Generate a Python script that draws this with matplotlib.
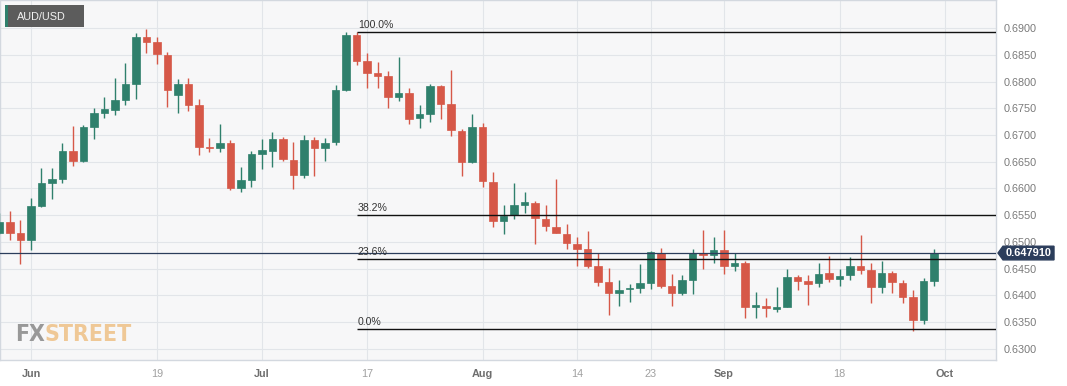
import matplotlib
matplotlib.use("Agg")
import matplotlib.pyplot as plt
import matplotlib.transforms as mtransforms
from matplotlib.patches import Rectangle, Polygon
import numpy as np
import pandas as pd

# ---------------- data ----------------
dates = pd.bdate_range("2023-05-29", "2023-09-29")
opens = [0.6517, 0.6538, 0.6517, 0.6504, 0.6567, 0.6610, 0.6618, 0.6670, 0.6652, 0.6716,
         0.6742, 0.6747, 0.6766, 0.6796, 0.6884, 0.6874, 0.6850, 0.6775, 0.6796, 0.6756,
         0.6678, 0.6675, 0.6686, 0.6600, 0.6616, 0.6665, 0.6670, 0.6692, 0.6654, 0.6626,
         0.6691, 0.6675, 0.6687, 0.6785, 0.6888, 0.6839, 0.6816, 0.6811, 0.6772, 0.6778,
         0.6732, 0.6739, 0.6792, 0.6758, 0.6708, 0.6649, 0.6716, 0.6613, 0.6539, 0.6550,
         0.6570, 0.6573, 0.6543, 0.6527, 0.6515, 0.6496, 0.6486, 0.6454, 0.6424, 0.6404,
         0.6411, 0.6414, 0.6423, 0.6480, 0.6417, 0.6404, 0.6429, 0.6480, 0.6476, 0.6484,
         0.6454, 0.6461, 0.6378, 0.6379, 0.6375, 0.6378, 0.6434, 0.6426, 0.6423, 0.6441,
         0.6430, 0.6438, 0.6454, 0.6447, 0.6416, 0.6441, 0.6423, 0.6396, 0.6354, 0.6427]
highs = [0.6554, 0.6558, 0.6541, 0.6582, 0.6638, 0.6638, 0.6685, 0.6717, 0.6719, 0.6750,
         0.6772, 0.6806, 0.6835, 0.6892, 0.6898, 0.6884, 0.6855, 0.6805, 0.6806, 0.6767,
         0.6695, 0.6721, 0.6691, 0.6640, 0.6671, 0.6692, 0.6705, 0.6697, 0.6688, 0.6700,
         0.6697, 0.6695, 0.6794, 0.6894, 0.68925, 0.6853, 0.6836, 0.6820, 0.6846, 0.6788,
         0.6756, 0.6795, 0.6794, 0.6822, 0.6711, 0.6739, 0.6723, 0.6630, 0.6569, 0.6610,
         0.6593, 0.6577, 0.6570, 0.6617, 0.6533, 0.6510, 0.6521, 0.6480, 0.6452, 0.6429,
         0.6421, 0.6458, 0.6482, 0.6488, 0.6440, 0.6438, 0.6486, 0.6522, 0.6509, 0.6522,
         0.6480, 0.6465, 0.6407, 0.6394, 0.6415, 0.6449, 0.6438, 0.6438, 0.6460, 0.6474,
         0.6449, 0.6472, 0.6512, 0.6461, 0.6465, 0.6446, 0.6429, 0.6409, 0.6432, 0.6486]
lows = [0.6515, 0.6504, 0.6458, 0.6485, 0.6565, 0.6580, 0.6610, 0.6642, 0.6650, 0.6692,
        0.6732, 0.6738, 0.6756, 0.6767, 0.6854, 0.6833, 0.6752, 0.6741, 0.6745, 0.6662,
        0.6668, 0.6669, 0.6597, 0.6594, 0.6602, 0.6636, 0.6641, 0.6652, 0.6599, 0.6619,
        0.6623, 0.6652, 0.6682, 0.6783, 0.6831, 0.6788, 0.6789, 0.6750, 0.6764, 0.6721,
        0.6714, 0.6725, 0.6730, 0.6699, 0.6623, 0.6647, 0.6602, 0.6527, 0.6515, 0.6542,
        0.6555, 0.6496, 0.6520, 0.6516, 0.6486, 0.6454, 0.6451, 0.6417, 0.6364, 0.6379,
        0.6387, 0.6404, 0.6412, 0.6413, 0.6379, 0.6401, 0.6402, 0.6449, 0.6461, 0.6440,
        0.6446, 0.6357, 0.6357, 0.6359, 0.6369, 0.6378, 0.6409, 0.6382, 0.6416, 0.6424,
        0.6417, 0.6429, 0.6439, 0.6385, 0.6405, 0.6404, 0.6386, 0.6333, 0.6346, 0.6418]
closes = [0.6538, 0.6517, 0.6504, 0.6567, 0.6610, 0.6617, 0.6671, 0.6652, 0.6716, 0.6741,
          0.6749, 0.6766, 0.6795, 0.6884, 0.6875, 0.6851, 0.6785, 0.6796, 0.6756, 0.6678,
          0.6675, 0.6686, 0.6600, 0.6616, 0.6665, 0.6672, 0.6692, 0.6655, 0.6626, 0.6691,
          0.6675, 0.6686, 0.6785, 0.6888, 0.6839, 0.6816, 0.6811, 0.6772, 0.6778, 0.6730,
          0.6739, 0.6792, 0.6758, 0.6710, 0.6650, 0.6716, 0.6614, 0.6539, 0.6549, 0.6569,
          0.6574, 0.6544, 0.6529, 0.6516, 0.6497, 0.6486, 0.6455, 0.6424, 0.6404, 0.6410,
          0.6414, 0.6423, 0.6481, 0.6417, 0.6404, 0.6429, 0.6480, 0.6476, 0.6484, 0.6454,
          0.6461, 0.6378, 0.6381, 0.6376, 0.6378, 0.6434, 0.6426, 0.6421, 0.6440, 0.6430,
          0.6437, 0.6454, 0.6447, 0.6416, 0.6441, 0.6424, 0.6397, 0.6354, 0.6426, 0.647910]

fib_labels = ["100.0%", "38.2%", "23.6%", "0.0%"]
fib_levels = [0.68925, 0.65500, 0.64675, 0.63363]
fib_start_date = "2023-07-14"
last_price = 0.647910
last_price_text = "0.647910"

y_ticks = [0.6300, 0.6350, 0.6400, 0.6450, 0.6500, 0.6550, 0.6600,
           0.6650, 0.6700, 0.6750, 0.6800, 0.6850, 0.6900]
x_tick_dates = ["2023-06-01", "2023-06-19", "2023-07-03", "2023-07-17", "2023-08-01",
                "2023-08-14", "2023-08-23", "2023-09-01", "2023-09-18", "2023-10-02"]
x_tick_labels = ["Jun", "19", "Jul", "17", "Aug", "14", "23", "Sep", "18", "Oct"]
month_labels = {"Jun", "Jul", "Aug", "Sep", "Oct"}
symbol = "AUD/USD"

# ---------------- style ----------------
GREEN = "#2f806c"
RED = "#d65848"
NAVY = "#2b3d5b"
W, H = 1067, 386

plt.rcParams["font.family"] = ["Liberation Sans", "DejaVu Sans"]

fig = plt.figure(figsize=(W / 100, H / 100), dpi=100)
fig.patch.set_facecolor("white")
ax = fig.add_axes([0 / W, 26 / H, 996 / W, 360 / H])
ax.set_facecolor("#f7f7f8")

start = dates[0].strftime("%Y-%m-%d")
pos = np.arange(len(dates))
o = np.array(opens); h = np.array(highs); l = np.array(lows); c = np.array(closes)
up = c >= o
cols = np.where(up, GREEN, RED)

ax.vlines(pos, l, h, colors=cols, linewidth=1.0, zorder=3)
body_h = np.maximum(np.abs(c - o), 0.00003)
ax.bar(pos, body_h, bottom=np.minimum(o, c), width=0.72, color=cols,
       edgecolor=cols, linewidth=0.5, zorder=4)

# axes limits
ax.set_xlim(0.05, 94.9)
ax.set_ylim(0.62788, 0.69530)

# ticks
xt = [np.busday_count(start, d) for d in x_tick_dates]
ax.set_xticks(xt)
ax.set_xticklabels(x_tick_labels)
ax.set_yticks(y_ticks)
ax.set_yticklabels([f"{v:.4f}" for v in y_ticks])
ax.yaxis.tick_right()
ax.tick_params(axis="y", length=0, pad=5.8, labelsize=7.8, labelcolor="#7a7a7a")
ax.tick_params(axis="x", length=0, pad=6.2, labelsize=7.8)
for lbl in ax.get_xticklabels():
    if lbl.get_text() in month_labels:
        lbl.set_color("#6e6e6e")
        lbl.set_fontweight("bold")
    else:
        lbl.set_color("#a0a0a0")

ax.grid(True, color="#e2e5e9", linewidth=0.8, zorder=0)
ax.set_axisbelow(True)
for sp in ax.spines.values():
    sp.set_color("#d3d8df")
    sp.set_linewidth(1.0)

# current price line
ax.axhline(last_price, color=NAVY, linewidth=0.9, zorder=5)

# fibonacci lines
fib_x0 = np.busday_count(start, fib_start_date)
ax.hlines(fib_levels, fib_x0, 94.9, colors="#111111", linewidth=1.0, zorder=5)
for lab, lev in zip(fib_labels, fib_levels):
    ax.annotate(lab, (fib_x0, lev), xytext=(1, 1.5), textcoords="offset points",
                fontsize=7.6, color="#333333", va="bottom", ha="left", zorder=6)

# last price tag
tr = mtransforms.blended_transform_factory(fig.transFigure, ax.transData)
hh = 0.00128
xt0, xl, xr = 998 / W, 1003 / W, 1054 / W
tag = Polygon([(xt0, last_price), (xl, last_price + hh), (xr, last_price + hh),
               (xr, last_price - hh), (xl, last_price - hh)], closed=True,
              transform=tr, facecolor=NAVY, edgecolor=NAVY, clip_on=False, zorder=10)
fig.add_artist(tag)
fig.text(1029 / W, last_price, last_price_text, transform=tr, color="white",
         fontsize=7.9, fontweight="bold", ha="center", va="center", zorder=11)

# symbol box
fig.add_artist(Rectangle((5 / W, 1 - 27 / H), 79 / W, 22 / H, transform=fig.transFigure,
                         facecolor="#5c5c5c", edgecolor="none", zorder=10))
fig.add_artist(Rectangle((5 / W, 1 - 27 / H), 2.5 / W, 22 / H, transform=fig.transFigure,
                         facecolor=GREEN, edgecolor="none", zorder=11))
fig.text(16.5 / W, 1 - 16.5 / H, symbol, color="#f2f2f2", fontsize=7.8,
         ha="left", va="center", zorder=12)

# watermark
wm_family = ["DejaVu Sans"]
t1 = fig.text(15 / W, 1 - 341 / H, "FX", color="#8e8e8e", fontsize=16.5,
              fontweight="bold", fontstretch="condensed", family=wm_family,
              ha="left", va="baseline", alpha=0.9, zorder=2)
fig.canvas.draw()
bb = t1.get_window_extent()
fig.text(bb.x1 / W, 1 - 341 / H, "STREET", color="#efc38b", fontsize=16.5,
         fontweight="bold", fontstretch="condensed", family=wm_family,
         ha="left", va="baseline", alpha=0.9, zorder=2)

fig.savefig("out.png", dpi=100, facecolor="white")
